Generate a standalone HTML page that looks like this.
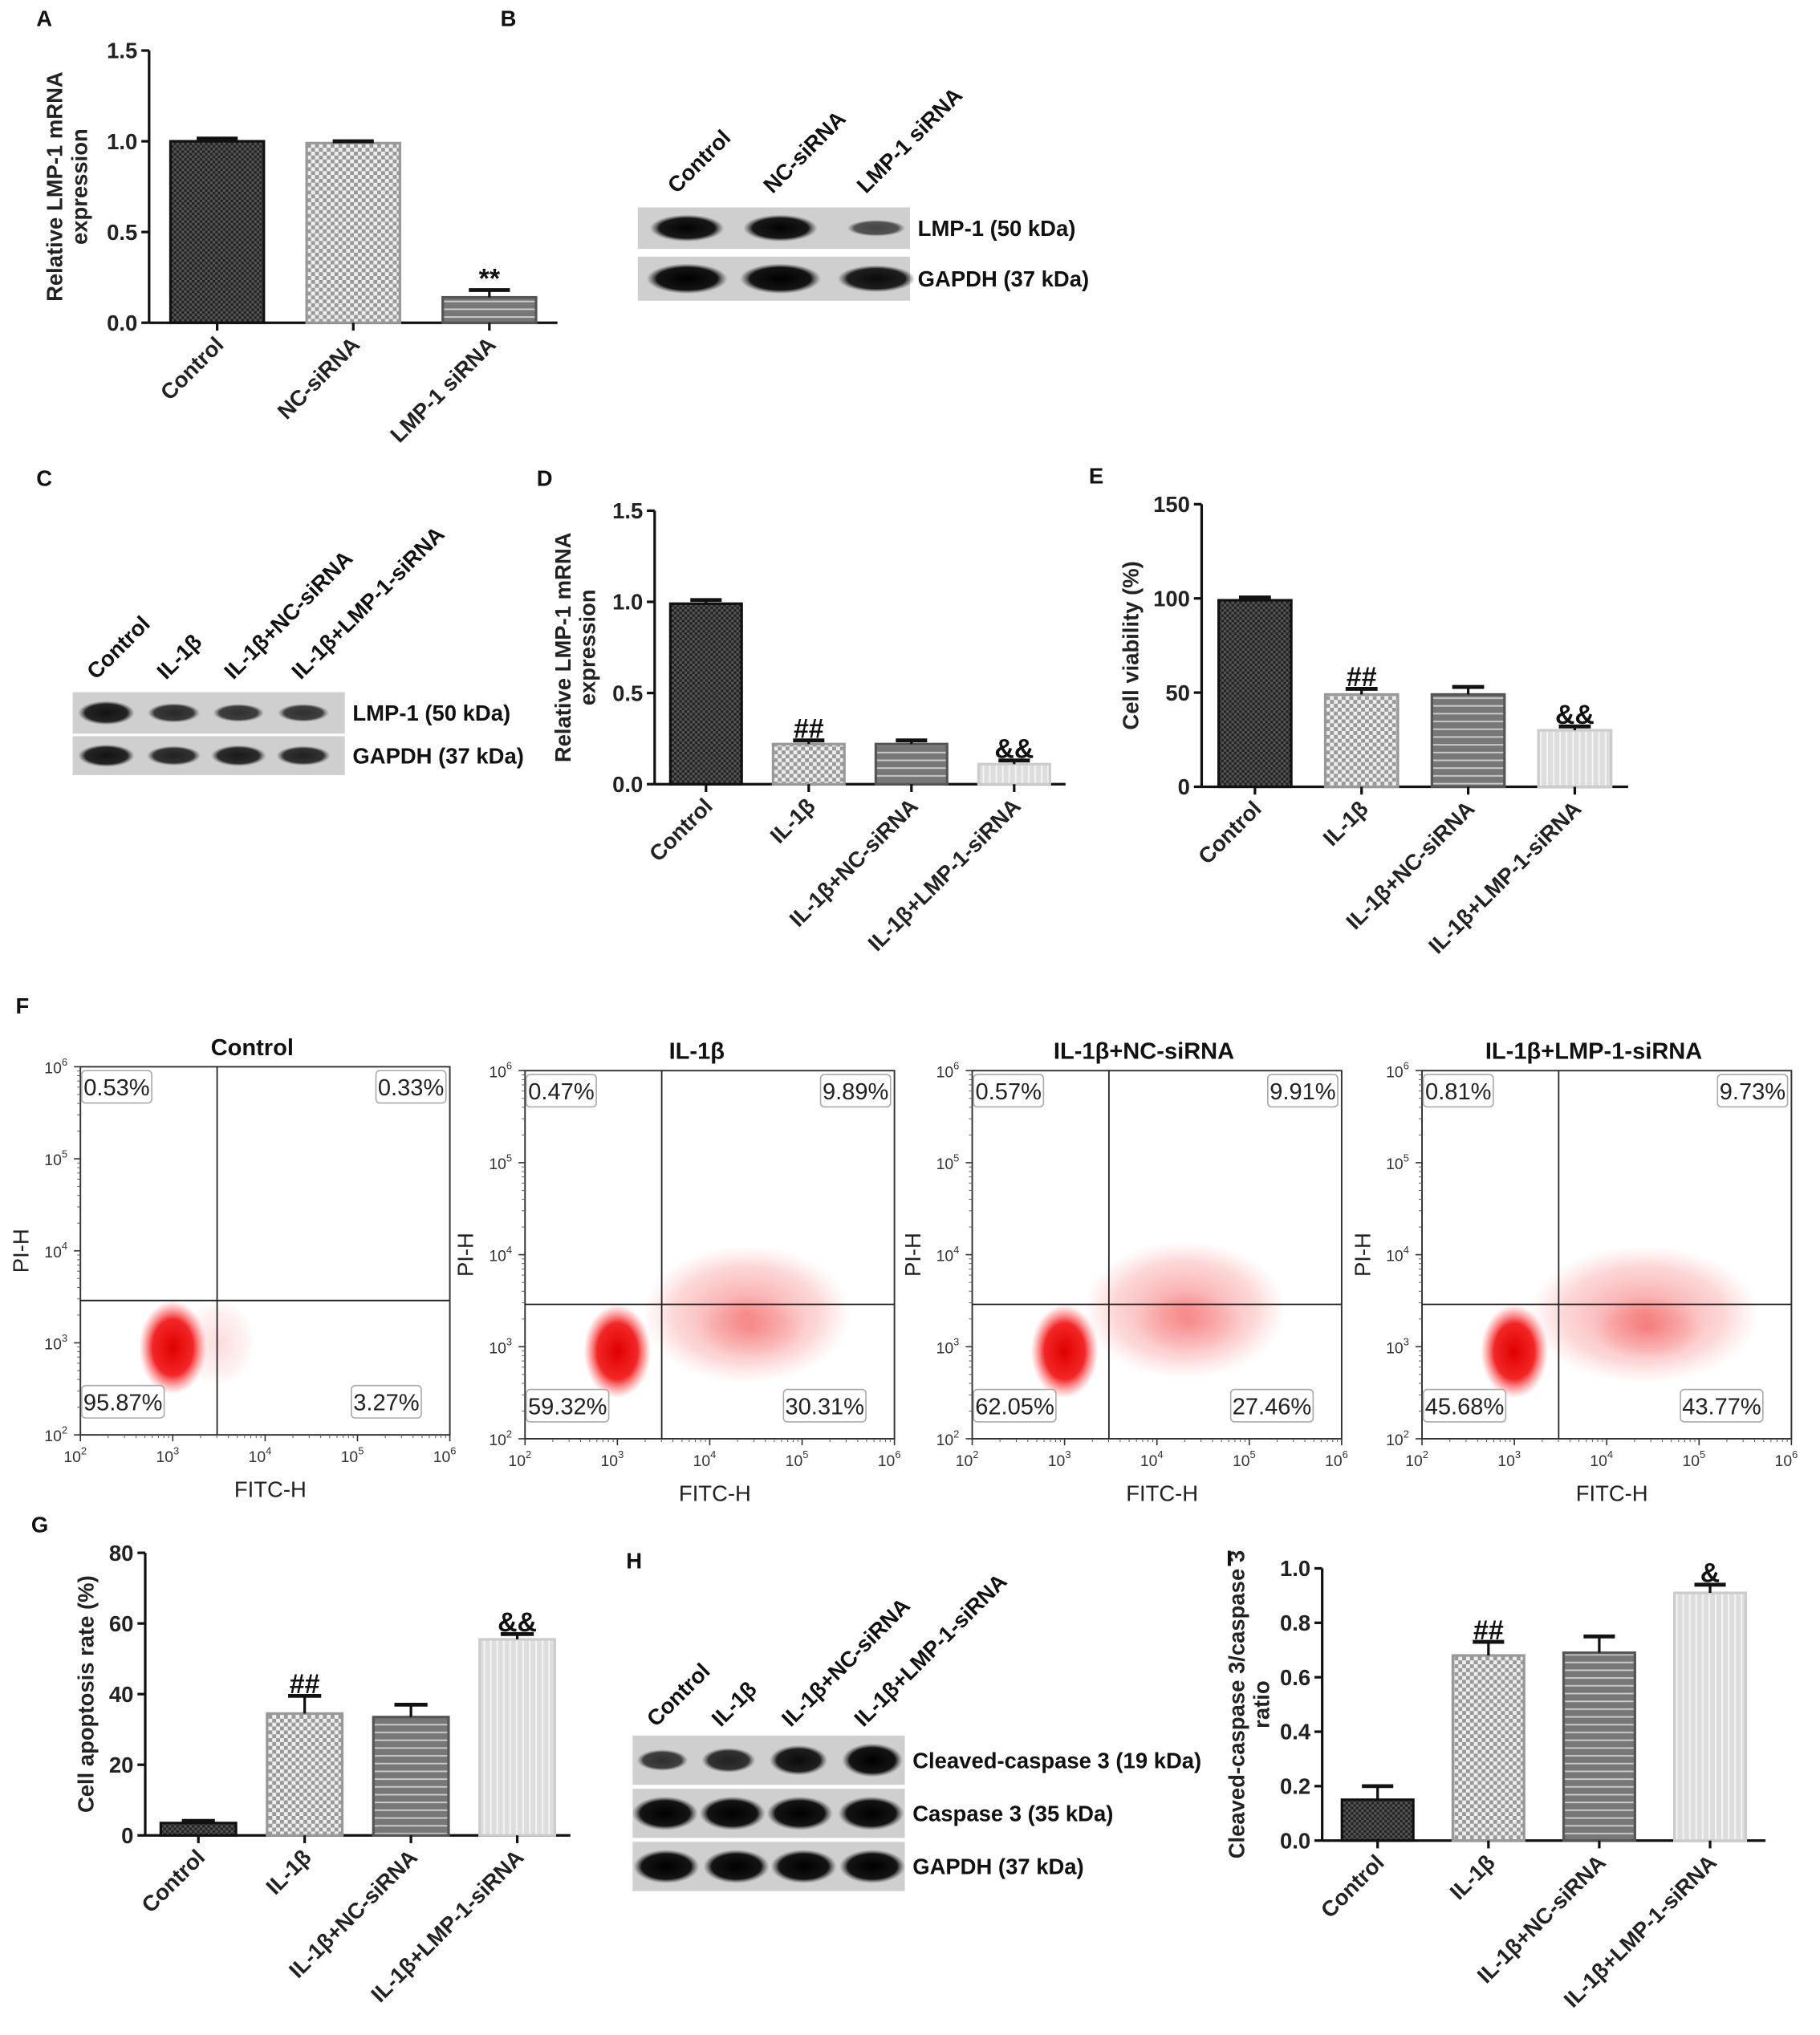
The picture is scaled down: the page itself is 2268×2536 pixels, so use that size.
<!DOCTYPE html>
<html><head><meta charset="utf-8">
<style>
html,body{margin:0;padding:0;background:#fff;}
svg{display:block;}
text{font-family:"Liberation Sans",sans-serif;}
</style></head>
<body>
<svg id="fig" width="2268" height="2536" viewBox="0 0 1404 1570" xmlns="http://www.w3.org/2000/svg">
<defs>
<pattern id="pDark" width="4" height="4" patternUnits="userSpaceOnUse"><rect width="4" height="4" fill="#555"/><rect width="2" height="2" fill="#222"/><rect x="2" y="2" width="2" height="2" fill="#222"/></pattern>
<pattern id="pLight" width="6" height="6" patternUnits="userSpaceOnUse"><rect width="6" height="6" fill="#eee"/><rect width="3" height="3" fill="#999"/><rect x="3" y="3" width="3" height="3" fill="#999"/></pattern>
<pattern id="pHoriz" width="6" height="6" patternUnits="userSpaceOnUse"><rect width="6" height="6" fill="#777"/><rect y="4" width="6" height="1.2" fill="#ccc"/></pattern>
<pattern id="pVert" width="5" height="5" patternUnits="userSpaceOnUse"><rect width="5" height="5" fill="#ddd"/><rect x="3" width="1.2" height="5" fill="#f5f5f5"/></pattern>
<radialGradient id="gDense"><stop offset="0" stop-color="#e00000" stop-opacity="1"/><stop offset="0.6" stop-color="#f00000" stop-opacity="0.85"/><stop offset="1" stop-color="#ff4040" stop-opacity="0"/></radialGradient>
<radialGradient id="gDiffuse"><stop offset="0" stop-color="#f03030" stop-opacity="0.5"/><stop offset="0.7" stop-color="#f46060" stop-opacity="0.25"/><stop offset="1" stop-color="#ff8080" stop-opacity="0"/></radialGradient>
<radialGradient id="gBand"><stop offset="0" stop-color="#000" stop-opacity="1"/><stop offset="0.75" stop-color="#0a0a0a" stop-opacity="0.95"/><stop offset="1" stop-color="#444" stop-opacity="0"/></radialGradient>
</defs>
<g id="root"></g>
</svg>
<script>
// ---------- data ----------
const catsA = ["Control","NC-siRNA","LMP-1 siRNA"];
const valsA = [1.0, 0.99, 0.14];
const errA = [0.015, 0.01, 0.04];
const marksA = ["","","**"];
const ticksA = [0.0,0.5,1.0,1.5];

const cats4 = ["Control","IL-1β","IL-1β+NC-siRNA","IL-1β+LMP-1-siRNA"];
const valsD = [0.99, 0.22, 0.22, 0.11];
const errD = [0.02, 0.02, 0.02, 0.02];
const marksD = ["","##","","&&"];
const ticksD = [0.0,0.5,1.0,1.5];

const valsE = [99, 49, 49, 30];
const errE = [1.5, 3, 4, 2];
const marksE = ["","##","","&&"];
const ticksE = [0,50,100,150];

const valsG = [3.5, 34.5, 33.5, 55.5];
const errG = [0.6, 5, 3.5, 1.5];
const marksG = ["","##","","&&"];
const ticksG = [0,20,40,60,80];

const valsI = [0.15, 0.68, 0.69, 0.91];
const errI = [0.05, 0.05, 0.06, 0.03];
const marksI = ["","##","","&"];
const ticksI = [0.0,0.2,0.4,0.6,0.8,1.0];

const flowTitles = ["Control","IL-1β","IL-1β+NC-siRNA","IL-1β+LMP-1-siRNA"];
const flowUL = ["0.53%","0.47%","0.57%","0.81%"];
const flowUR = ["0.33%","9.89%","9.91%","9.73%"];
const flowLL = ["95.87%","59.32%","62.05%","45.68%"];
const flowLR = ["3.27%","30.31%","27.46%","43.77%"];
const flowMainX = [3.0, 3.0, 3.0, 3.0];
const flowMainY = [2.95, 2.95, 2.95, 2.95];
const flowSpreadX = [3.5, 4.4, 4.3, 4.4];
const flowSpreadY = [3.0, 3.35, 3.4, 3.35];
const flowSpreadAmt = [0.05, 0.55, 0.5, 0.75];

const NS = "http://www.w3.org/2000/svg";
const root = document.getElementById("root");
function el(tag, attrs, parent, txt){
  const e = document.createElementNS(NS, tag);
  for (const k in attrs) e.setAttribute(k, attrs[k]);
  if (txt !== undefined) e.textContent = txt;
  (parent||root).appendChild(e);
  return e;
}
const patterns = ["url(#pDark)","url(#pLight)","url(#pHoriz)","url(#pVert)"];
const strokes = ["#111","#999","#555","#ccc"];

function barChart(name, cats, vals, errs, marks, ticks, cfg){
  const g = el("g", {});
  
  
  const yMin = ticks[0], yMax = ticks[ticks.length-1];
  const y = v => cfg.y0 - (v - yMin)/(yMax - yMin)*(cfg.y0 - cfg.y1);
  const ya = el("line",{x1:cfg.x0,y1:cfg.y1,x2:cfg.x0,y2:cfg.y0,stroke:"#111","stroke-width":2},g);
  
  
  const xa = el("line",{x1:cfg.x0,y1:cfg.y0,x2:cfg.x1,y2:cfg.y0,stroke:"#111","stroke-width":2},g);
  
  
  ticks.forEach(t=>{
    el("line",{x1:cfg.x0-6,x2:cfg.x0,y1:y(t),y2:y(t),stroke:"#111","stroke-width":2},g);
    const tl = el("text",{x:cfg.x0-9,y:y(t)+6,"text-anchor":"end","font-size":17,"font-weight":"bold",fill:"#222"},g,cfg.fmt(t));
    
    
  });
  const n = cats.length;
  const step = (cfg.x1 - cfg.x0)/n;
  cats.forEach((c,i)=>{
    const cx = cfg.x0 + step*(i+0.5);
    const w = cfg.bw;
    const b = el("rect",{x:cx-w/2,y:y(vals[i]),width:w,height:cfg.y0-y(vals[i]),fill:patterns[i],stroke:strokes[i],"stroke-width":2},g);
    
    
    const ye = y(vals[i]+errs[i]);
    el("line",{x1:cx,x2:cx,y1:y(vals[i]),y2:ye,stroke:"#111","stroke-width":2},g);
    const eb = el("line",{x1:cx-w*0.22,x2:cx+w*0.22,y1:ye,y2:ye,stroke:"#111","stroke-width":3},g);
    
    
    if (marks[i]) {
      const m = el("text",{x:cx,y:ye-2,"text-anchor":"middle","font-size":21,"font-weight":"bold",fill:"#111"},g,marks[i]);
      
      
    }
    el("line",{x1:cx,x2:cx,y1:cfg.y0,y2:cfg.y0+6,stroke:"#111","stroke-width":2},g);
    const lt = el("text",{x:cx+6,y:cfg.y0+18,"text-anchor":"end","font-size":17,"font-weight":"bold",fill:"#222",transform:`rotate(-45 ${cx+6} ${cfg.y0+18})`},g,c);
    
    
  });
  const tx = cfg.titleX, ty = (cfg.y0+cfg.y1)/2;
  const tt = el("text",{x:tx,y:ty,"text-anchor":"middle","font-size":17,"font-weight":"bold",fill:"#222",transform:`rotate(-90 ${tx} ${ty})`},g);
  
  
  cfg.title.forEach((line,k)=>{ el("tspan",{x:tx,dy:k===0?0:19},tt,line); });
}
const f1 = t=>t.toFixed(1);
const f0 = t=>String(t);
barChart("chart-a", catsA, valsA, errA, marksA, ticksA, {x0:115,x1:430,y0:249,y1:39,bw:72,fmt:f1,title:["Relative LMP-1 mRNA","expression"],titleX:48});
barChart("chart-d", cats4, valsD, errD, marksD, ticksD, {x0:505,x1:822,y0:605,y1:394,bw:55,fmt:f1,title:["Relative LMP-1 mRNA","expression"],titleX:440});
barChart("chart-e", cats4, valsE, errE, marksE, ticksE, {x0:927,x1:1256,y0:607,y1:389,bw:56,fmt:f0,title:["Cell viability (%)"],titleX:878});
barChart("chart-g", cats4, valsG, errG, marksG, ticksG, {x0:112,x1:440,y0:1416,y1:1198,bw:58,fmt:f0,title:["Cell apoptosis rate (%)"],titleX:72});
barChart("chart-i", cats4, valsI, errI, marksI, ticksI, {x0:1020,x1:1362,y0:1420,y1:1210,bw:55,fmt:f1,title:["Cleaved-caspase 3/caspase 3","ratio"],titleX:960});

[["A",28,20],["B",386,20],["C",28,375],["D",414,375],["E",840,373],["F",12,782],["G",24,1182],["H",483,1210],["I",946,1208]].forEach(p=>{
  const t = el("text",{x:p[1],y:p[2],"font-size":17,"font-weight":"bold",fill:"#111"},root,p[0]);
  
  
});

// ---------- western blots ----------
function blot(name, x, y, w, h, lanes, intens, label, lw){
  const g = el("g",{});
  
  
  el("rect",{x:x,y:y,width:w,height:h,fill:"#cfcfcf"},g);
  lanes.forEach((lx,i)=>{
    const b = el("ellipse",{cx:lx,cy:y+h/2,rx:lw*(0.55+0.45*intens[i]),ry:h*0.36*Math.max(0.55,intens[i]),fill:"url(#gBand)",opacity:Math.min(1,0.35+intens[i]*0.7)},g);
    
    
  });
  const t = el("text",{x:x+w+6,y:y+h/2+6,"font-size":17,"font-weight":"bold",fill:"#111"},g,label);
  
  
}
function laneLabels(labels, xs, y){
  labels.forEach((l,i)=>{
    const t = el("text",{x:xs[i],y:y,"font-size":17,"font-weight":"bold",fill:"#111",transform:`rotate(-45 ${xs[i]} ${y})`},root,l);
    
    
  });
}
laneLabels(["Control","NC-siRNA","LMP-1 siRNA"],[522,596,668],150);
blot("blot-b-lmp1",492,160,210,32,[530,602,676],[0.9,0.9,0.45],"LMP-1 (50 kDa)",30);
blot("blot-b-gapdh",492,198,210,34,[530,602,676],[0.95,0.95,0.85],"GAPDH (37 kDa)",32);
laneLabels(["Control","IL-1β","IL-1β+NC-siRNA","IL-1β+LMP-1-siRNA"],[74,128,180,232],525);
blot("blot-c-lmp1",56,534,210,32,[82,134,184,234],[0.8,0.65,0.6,0.6],"LMP-1 (50 kDa)",24);
blot("blot-c-gapdh",56,568,210,30,[82,134,184,234],[0.8,0.7,0.75,0.7],"GAPDH (37 kDa)",24);
laneLabels(["Control","IL-1β","IL-1β+NC-siRNA","IL-1β+LMP-1-siRNA"],[506,556,610,666],1333);
blot("blot-h-cleaved",488,1339,210,38,[511,562,616,673],[0.6,0.7,0.85,0.95],"Cleaved-caspase 3 (19 kDa)",24);
blot("blot-h-casp3",488,1380,210,38,[513,565,617,672],[0.95,0.95,0.95,0.95],"Caspase 3 (35 kDa)",26);
blot("blot-h-gapdh",488,1421,210,38,[514,568,620,673],[0.95,0.95,0.95,0.95],"GAPDH (37 kDa)",26);

// ---------- flow cytometry ----------
const flowX = [62,405,750,1097];
const flowY0 = [823,826,826,826];
const FW = 285, FH = 284;
flowTitles.forEach((title,i)=>{
  const g = el("g",{});
  
  
  const x0 = flowX[i], y0 = flowY0[i];
  const lx = v => x0 + (v-2)/4*FW;
  const ly = v => y0 + FH - (v-2)/4*FH;
  const tt = el("text",{x:x0+FW/2-10,y:y0-9,"text-anchor":"middle","font-size":18,"font-weight":"bold",fill:"#111"},g,title);
  
  
  const sp = flowSpreadAmt[i];
  if (sp > 0.1) {
    const d = el("ellipse",{cx:lx(flowSpreadX[i]),cy:ly(flowSpreadY[i]),rx:(lx(1)-lx(0))*(0.8+sp*0.6),ry:(ly(0)-ly(1))*0.75,fill:"url(#gDiffuse)"},g);
    
    
    el("ellipse",{cx:lx(flowSpreadX[i]+0.05),cy:ly(flowSpreadY[i]-0.15),rx:(lx(1)-lx(0))*0.6,ry:(ly(0)-ly(1))*0.35,fill:"url(#gDiffuse)",opacity:sp},g);
  } else {
    el("ellipse",{cx:lx(flowSpreadX[i]),cy:ly(flowSpreadY[i]),rx:28,ry:34,fill:"url(#gDiffuse)",opacity:0.35},g);
  }
  const m = el("ellipse",{cx:lx(flowMainX[i]),cy:ly(flowMainY[i]),rx:26,ry:36,fill:"url(#gDense)"},g);
  
  
  el("rect",{x:x0,y:y0,width:FW,height:FH,fill:"none",stroke:"#333","stroke-width":1.2},g);
  el("line",{x1:lx(3.48),x2:lx(3.48),y1:y0,y2:y0+FH,stroke:"#222","stroke-width":1.1},g);
  el("line",{x1:x0,x2:x0+FW,y1:ly(3.46),y2:ly(3.46),stroke:"#222","stroke-width":1.1},g);
  for (let p=2;p<=6;p++){
    el("line",{x1:lx(p),x2:lx(p),y1:y0+FH,y2:y0+FH+5,stroke:"#333","stroke-width":1},g);
    el("line",{x1:x0-5,x2:x0,y1:ly(p),y2:ly(p),stroke:"#333","stroke-width":1},g);
    const a = el("text",{x:lx(p)-4,y:y0+FH+21,"text-anchor":"middle","font-size":12,fill:"#333"},g,"10");
    el("tspan",{dy:-6,"font-size":8},a,String(p));
    const b = el("text",{x:x0-10,y:ly(p)+5,"text-anchor":"end","font-size":12,fill:"#333"},g,"10");
    el("tspan",{dy:-6,"font-size":8},b,String(p));
    for (let k=2;k<10&&p<6;k++){
      const v = p+Math.log10(k);
      el("line",{x1:lx(v),x2:lx(v),y1:y0+FH,y2:y0+FH+2.5,stroke:"#555","stroke-width":0.6},g);
      el("line",{x1:x0-2.5,x2:x0,y1:ly(v),y2:ly(v),stroke:"#555","stroke-width":0.6},g);
    }
  }
  const xt = el("text",{x:x0+FW/2+4,y:y0+FH+48,"text-anchor":"middle","font-size":17,fill:"#222"},g,"FITC-H");
  
  
  const yx = x0-40, yy = y0+FH/2;
  const yt = el("text",{x:yx,y:yy,"text-anchor":"middle","font-size":17,fill:"#222",transform:`rotate(-90 ${yx} ${yy})`},g,"PI-H");
  
  
  function qbox(txt, bx, by, anchorRight){
    const w = txt.length*9.6+6;
    const rx = anchorRight ? bx-w : bx;
    el("rect",{x:rx,y:by,width:w,height:25,rx:3,fill:"#fff",stroke:"#aaa","stroke-width":1},g);
    const t = el("text",{x:rx+w/2,y:by+19,"text-anchor":"middle","font-size":18,fill:"#222","font-family":"DejaVu Sans Condensed, Liberation Sans, sans-serif"},g,txt);
    
    
  }
  qbox(flowUL[i], x0+1, y0+3, false);
  qbox(flowUR[i], x0+FW-3, y0+3, true);
  qbox(flowLL[i], x0+1, y0+FH-38, false);
  qbox(flowLR[i], x0+FW-22, y0+FH-38, true);
});
</script>
</body></html>
